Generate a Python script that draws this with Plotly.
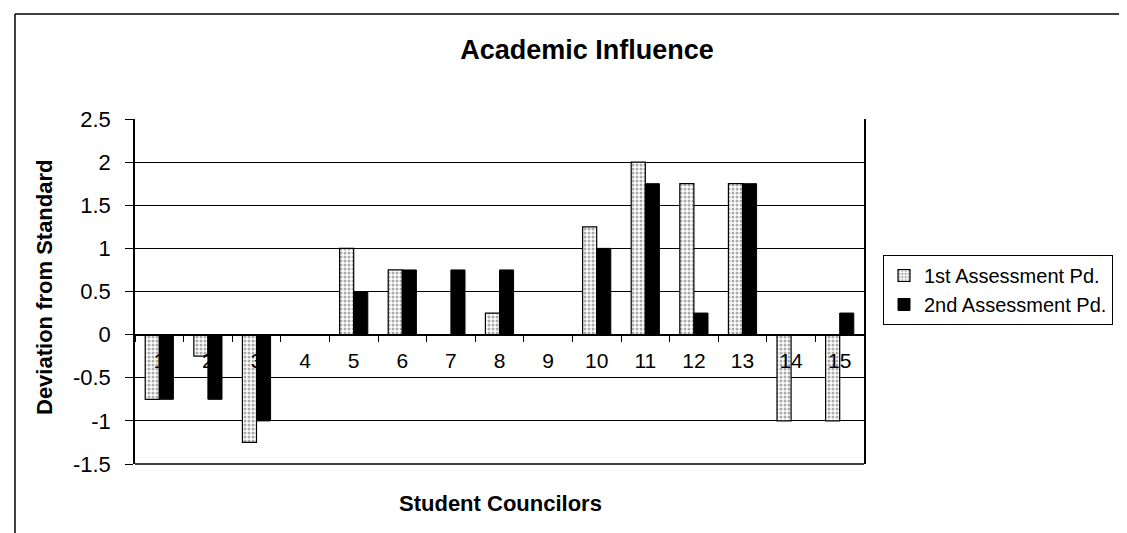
import plotly.graph_objects as go

councilors = [str(i) for i in range(1, 16)]
first_pd = [-0.75, -0.25, -1.25, 0, 1, 0.75, 0, 0.25, 0, 1.25, 2, 1.75, 1.75, -1, -1]
second_pd = [-0.75, -0.75, -1, 0, 0.5, 0.75, 0.75, 0.75, 0, 1, 1.75, 0.25, 1.75, 0, 0.25]
y_ticks = [-1.5, -1, -0.5, 0, 0.5, 1, 1.5, 2, 2.5]
y_ticklabels = ["-1.5", "-1", "-0.5", "0", "0.5", "1", "1.5", "2", "2.5"]

W, H = 1127, 533
L, R, T, B = 127, 856, 111, 456

fig = go.Figure()
fig.add_trace(go.Bar(
    x=councilors, y=first_pd, name="1st Assessment Pd.",
    marker=dict(color="white", line=dict(color="black", width=1.2),
                pattern=dict(shape=".", fgcolor="#555", bgcolor="white", size=4, solidity=0.45)),
))
fig.add_trace(go.Bar(
    x=councilors, y=second_pd, name="2nd Assessment Pd.",
    marker=dict(color="black", line=dict(color="black", width=1)),
))

font = "Arial, Liberation Sans, sans-serif"
zero_pos = (0 - y_ticks[0]) / (y_ticks[-1] - y_ticks[0])

fig.update_layout(
    width=W, height=H,
    margin=dict(l=L, r=W - R, t=T, b=H - B, pad=0),
    paper_bgcolor="white", plot_bgcolor="white",
    barmode="group", bargap=0.42, bargroupgap=0,
    font=dict(family=font, size=20, color="black"),
    title=dict(text="<b>Academic Influence</b>", x=579 / W, xanchor="center",
               y=1 - 42 / H, yanchor="middle", font=dict(size=27)),
    legend=dict(x=(875 - L) / (R - L), xanchor="left", y=(B - 247) / (B - T), yanchor="top",
                bordercolor="black", borderwidth=1, bgcolor="white",
                font=dict(size=20), itemwidth=30, tracegroupgap=0),
    showlegend=True,
)
fig.update_xaxes(
    type="category", anchor="free", position=zero_pos,
    showline=True, linecolor="black", linewidth=1,
    ticks="outside", tickson="boundaries", ticklen=6, tickcolor="black",
    ticklabelstandoff=7,
    tickfont=dict(size=21), showgrid=False, zeroline=False,
)
fig.update_yaxes(
    range=[y_ticks[0], y_ticks[-1]], tickvals=y_ticks, ticktext=y_ticklabels,
    showgrid=True, gridcolor="black", gridwidth=1, zeroline=False,
    showline=True, linecolor="black", linewidth=1.5, mirror=True,
    ticks="outside", ticklen=8, tickcolor="black", tickfont=dict(size=22),
    ticklabelstandoff=10,
)
# plot-area bottom border
fig.add_shape(type="line", xref="paper", yref="paper", x0=0, x1=1, y0=0, y1=0,
              line=dict(color="black", width=1.5))
# axis titles
fig.add_annotation(text="<b>Student Councilors</b>", xref="paper", yref="paper",
                   x=(492 - L) / (R - L), y=(B - 495) / (B - T), showarrow=False,
                   font=dict(size=22), xanchor="center", yanchor="middle")
fig.add_annotation(text="<b>Deviation from Standard</b>", xref="paper", yref="paper",
                   x=(36 - L) / (R - L), y=(B - 280) / (B - T), showarrow=False, textangle=-90,
                   font=dict(size=22), xanchor="center", yanchor="middle")
# outer chart frame (left and top edges)
fx = (7 - L) / (R - L)
fy_top = (B - 6) / (B - T)
fy_bot = (B - 533) / (B - T)
fig.add_shape(type="line", xref="paper", yref="paper", x0=fx, x1=fx, y0=fy_bot, y1=fy_top,
              line=dict(color="black", width=1.5))
fig.add_shape(type="line", xref="paper", yref="paper", x0=fx, x1=(W - L) / (R - L), y0=fy_top, y1=fy_top,
              line=dict(color="black", width=1.5))

fig.write_html("out.html")
